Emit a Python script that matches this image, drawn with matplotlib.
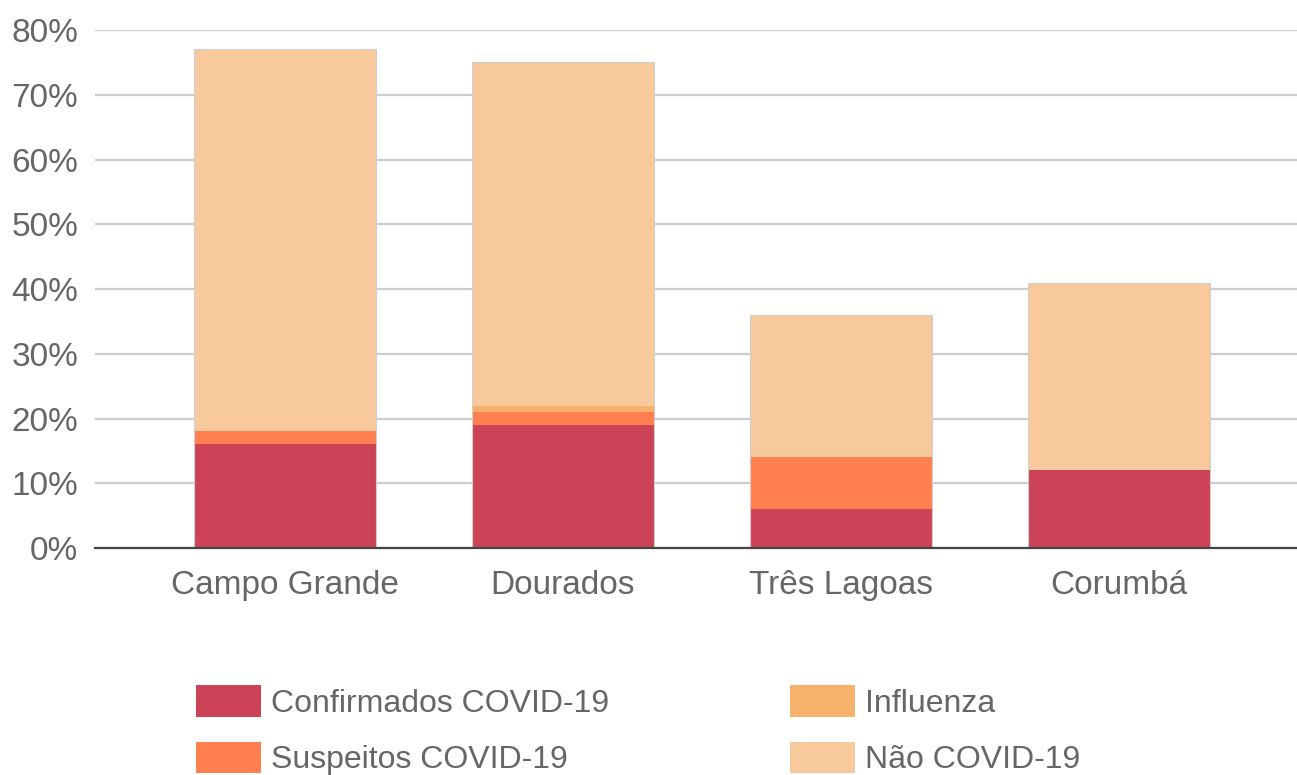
import numpy as np
import matplotlib.pyplot as plt
from matplotlib.patches import Patch

plt.rcParams['font.family'] = ['Liberation Sans', 'DejaVu Sans']

# Données (en %)
cidades = ["Campo Grande", "Dourados", "Três Lagoas", "Corumbá"]
confirmados = [16, 19, 6, 12]
suspeitos = [2, 2, 8, 0]
influenza = [0, 1, 0, 0]
nao_covid = [59, 53, 22, 29]
y_ticks = [0, 10, 20, 30, 40, 50, 60, 70, 80]

series = [
    ("Confirmados COVID-19", confirmados, "#cc4357"),
    ("Suspeitos COVID-19", suspeitos, "#ff7f50"),
    ("Influenza", influenza, "#f6b26b"),
    ("Não COVID-19", nao_covid, "#f7c99c"),
]

txt = "#666666"
fig = plt.figure(figsize=(12.97, 7.75), dpi=100)
ax = fig.add_axes([95 / 1297, 1 - 548 / 775, 1 - 95 / 1297, (548 - 30) / 775])

x = np.arange(len(cidades))
bottom = np.zeros(len(cidades))
handles = []
for nome, vals, cor in series:
    vals = np.array(vals, dtype=float)
    ax.bar(x, vals, bottom=bottom, width=0.655, color=cor, zorder=3, linewidth=0)
    bottom += vals
    handles.append(Patch(facecolor=cor, edgecolor="none", label=nome))
# contorno leve das barras
ax.bar(x, bottom, width=0.655, facecolor="none", edgecolor="#cfcfcf", linewidth=0.8, zorder=4)

ax.set_ylim(0, 80)
ax.set_xlim(-0.683, 3.64)
ax.set_yticks(y_ticks)
ax.set_yticklabels([f"{v}%" for v in y_ticks])
ax.set_xticks(x)
ax.set_xticklabels(cidades)
ax.tick_params(axis="both", length=0, labelsize=24, colors=txt)
ax.tick_params(axis="y", pad=12)
ax.tick_params(axis="x", pad=16)
ax.yaxis.grid(True, color="#cccccc", linewidth=1.6, zorder=0)
for s in ["top", "right", "left"]:
    ax.spines[s].set_visible(False)
ax.spines["bottom"].set_color("#444444")
ax.spines["bottom"].set_linewidth(1.6)
ax.spines["bottom"].set_zorder(5)

leg_kw = dict(frameon=False, fontsize=23, labelcolor=txt, handlelength=2.05,
              handleheight=1.15, handletextpad=0.3, labelspacing=0.72,
              borderpad=0, borderaxespad=0, loc="upper left")
fig.legend(handles=handles[:2], bbox_to_anchor=(196 / 1297, 1 - 685 / 775), **leg_kw)
fig.legend(handles=handles[2:], bbox_to_anchor=(790 / 1297, 1 - 685 / 775), **leg_kw)

fig.savefig("out.png", dpi=100)
